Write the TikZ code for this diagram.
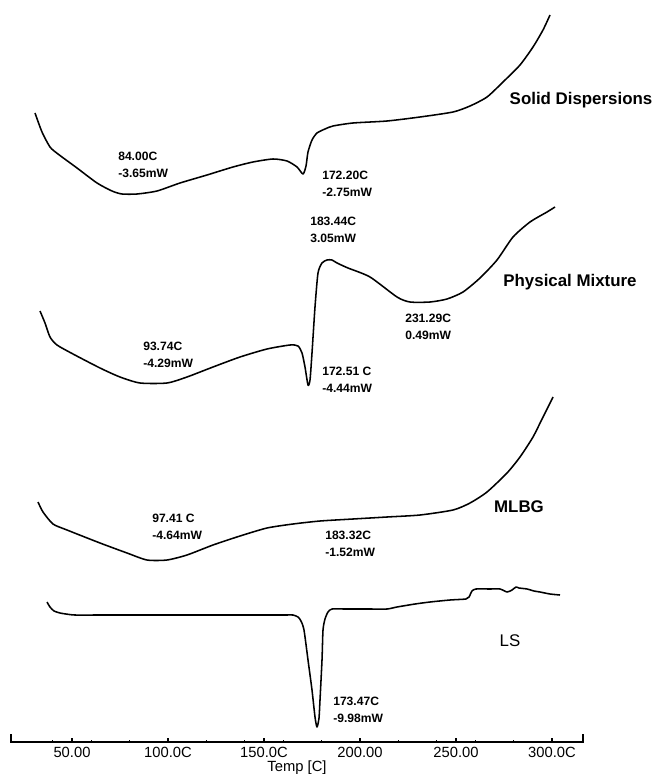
\documentclass[tikz,border=0pt]{standalone}
\usepackage{fontspec}
\setmainfont{Liberation Sans}

\tikzset{
  curva/.style={line width=1.1pt, smooth, tension=0.4, line join=round},
  valor/.style={anchor=west, align=left, inner sep=0pt, font=\fontsize{8.6}{11.8}\selectfont\bfseries},
  titulo/.style={inner sep=0pt, font=\fontsize{12}{14}\selectfont\bfseries},
  escala/.style={inner sep=0pt, font=\fontsize{10.5}{12}\selectfont}
}

\begin{document}
\begin{tikzpicture}[x=0.025cm, y=-0.025cm]
  \useasboundingbox (0,0) rectangle (655,774);

  % Curvas
  \draw[curva] plot coordinates {(35,113) (42,132) (50,147) (58,154) (77,168) (97,183) (112,191) (122,194) (137,194) (157,191) (180,183) (207,175) (233,167) (253,162) (273,159) (287,161) (297,167) (303,174) (306,166) (308,152) (312,140) (317,133) (325,129) (333,126) (353,123) (387,121) (420,117) (453,112) (470,106) (487,97) (503,82) (520,65) (533,47) (543,30) (550,15)};
  \draw[curva] plot coordinates {(40,311) (45,323) (50,337) (57,345) (73,354) (100,368) (120,377) (140,383) (167,383) (187,377) (213,367) (240,357) (267,349) (290,345) (298,346) (302,353) (305,367) (308,385) (310,380) (312,353) (315,307) (318,273) (322,263) (327,260) (332,260) (337,263) (348,268) (370,277) (397,297) (410,302) (430,302) (447,299) (463,292) (480,278) (497,260) (513,237) (530,222) (547,212) (555,207)};
  \draw[curva] plot coordinates {(38,502) (43,512) (53,524) (67,530) (100,543) (127,553) (147,560) (167,560) (187,555) (213,545) (240,536) (267,528) (293,524) (320,521) (353,519) (387,517) (420,515) (453,510) (470,503) (487,492) (507,473) (520,457) (533,437) (543,417) (553,397)};
  \draw[curva] plot coordinates {(47,602) (50,607) (54,611) (60,613) (66,614) (75,615) (100,615) (150,615) (200,615) (250,615) (285,615) (293,615) (298,617) (301,621) (304,630) (308,660) (312,690) (315,717) (317,727) (319,718) (320,700) (322,660) (323,630) (325,619) (328,612) (332,609) (345,609) (370,609) (387,609) (397,607) (415,604) (430,602) (450,600) (466,599) (469,597) (472,591) (476,589) (490,589) (500,589) (507,592) (512,590) (516,587) (519,588) (527,589) (534,591) (540,592) (550,594) (560,595)};

  % Titulos
  \node[titulo] (sd) at (581,100) {Solid Dispersions};
  \node[titulo] (pm) at (570,282) {Physical Mixture};
  \node[titulo] (mlbg) at (519,507) {MLBG};
  \node[titulo, font=\fontsize{12}{14}\selectfont] (ls) at (510,641) {LS};

  % Picos
  \node[valor] (sd1) at (118,165) {84.00C\\-3.65mW};
  \node[valor] (sd2) at (322,184) {172.20C\\-2.75mW};
  \node[valor] (pm1) at (143,355) {93.74C\\-4.29mW};
  \node[valor] (pm2) at (322,380) {172.51 C\\-4.44mW};
  \node[valor] (pm3) at (310,230) {183.44C\\3.05mW};
  \node[valor] (pm4) at (405,327) {231.29C\\0.49mW};
  \node[valor] (mlbg1) at (152,527) {97.41 C\\-4.64mW};
  \node[valor] (mlbg2) at (325,544) {183.32C\\-1.52mW};
  \node[valor] (ls1) at (333,710) {173.47C\\-9.98mW};

  % Eje
  \draw[line width=0.9pt] (11,734) -- (11,742) -- (583,742) -- (583,734);
  \foreach \t in {40,60,...,280}
    \draw[line width=0.6pt] (1.92*\t-24,742) -- ++(0,-2);
  \foreach \t/\txt in {50/50.00,100/100.0C,150/150.0C,200/200.00,250/250.00,300/300.0C}{
    \draw[line width=0.8pt] (1.92*\t-24,742) -- ++(0,-4);
    \node[escala] (t\t) at (1.92*\t-24,752) {\txt};
  }
  \node[escala] (temp) at (297,768) {Temp [C]};
\end{tikzpicture}
\end{document}
